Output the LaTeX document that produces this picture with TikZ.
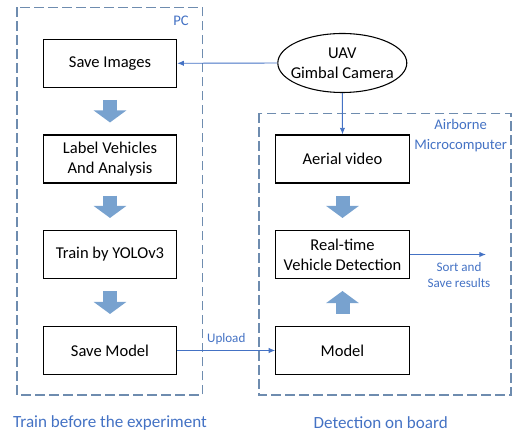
\documentclass[tikz,border=0pt]{standalone}
\usepackage{fontspec}
\setmainfont{Carlito}
\usetikzlibrary{arrows.meta,shapes.geometric}
\definecolor{frameblue}{RGB}{110,140,175}
\definecolor{textblue}{RGB}{68,114,196}
\definecolor{arrowblue}{RGB}{120,162,207}
\tikzset{
  boxfont/.style={font=\fontsize{12.4}{15}\selectfont},
  stepbox/.style={draw=black,line width=0.8pt,minimum width=100pt,minimum height=36pt,align=center,boxfont,inner sep=0pt},
  frame/.style={draw=frameblue,line width=1.1pt,dash pattern=on 7pt off 3.5pt},
  bluelabel/.style={text=textblue,align=center,inner sep=0pt},
  blockarrow/.style={draw=arrowblue,line width=10.5pt,-{Triangle[width=24pt,length=9pt]},shorten <=9pt,shorten >=9pt},
  thinarrow/.style={draw=textblue,line width=0.7pt,-{Latex[length=5pt,width=4pt]}}
}
\begin{document}
\begin{tikzpicture}[x=0.75pt,y=-0.75pt]
\useasboundingbox (0,0) rectangle (515,434);
% frames
\draw[frame] (17,7.3) rectangle (202.7,395);
\draw[frame] (259,113.3) rectangle (511,395);
% left column
\node[stepbox] (saveimg) at (110,63.3) {Save Images};
\node[stepbox] (label) at (110,159) {Label Vehicles\\And Analysis};
\node[stepbox] (train) at (110,254.5) {Train by YOLOv3};
\node[stepbox] (savemodel) at (110,350.5) {Save Model};
% right column
\node[draw=black,line width=0.8pt,ellipse,minimum width=96.75pt,minimum height=44.25pt,inner sep=0pt,align=center,boxfont] (uav) at (342.3,63) {\makebox[50pt]{UAV}\\\makebox[50pt]{Gimbal Camera}};
\node[stepbox] (aerial) at (342.5,159) {Aerial video};
\node[stepbox] (rt) at (342.5,254.5) {Real-time\\Vehicle Detection};
\node[stepbox] (model) at (342.5,350.5) {Model};
% block arrows
\draw[blockarrow] (saveimg.south) -- (label.north);
\draw[blockarrow] (label.south) -- (train.north);
\draw[blockarrow] (train.south) -- (savemodel.north);
\draw[blockarrow] (aerial.south) -- (rt.north);
\draw[blockarrow] (model.north) -- (rt.south);
% thin arrows
\draw[thinarrow] (uav.west) -- (saveimg.east);
\draw[thinarrow] (uav.south) -- (aerial.north);
\draw[thinarrow] (savemodel.east) -- node[bluelabel,above=4pt,font=\fontsize{9.8}{11}\selectfont] (upl) {Upload} (model.west);
\coordinate (sortend) at (486,254.5);
\draw[thinarrow] (rt.east) -- (sortend);
% labels
\node[bluelabel,font=\fontsize{9.8}{12}\selectfont] (sort) at (459,275) {Sort and\\Save results};
\node[bluelabel,font=\fontsize{11}{13}\selectfont] (pc) at (181,21) {PC};
\node[bluelabel,font=\fontsize{11}{14.5}\selectfont] (air) at (460.7,135.5) {Airborne\\Microcomputer};
\node[bluelabel,font=\fontsize{12.8}{15}\selectfont] (trainlbl) at (110,423) {Train before the experiment};
\node[bluelabel,font=\fontsize{12.8}{15}\selectfont] (detlbl) at (380.7,423) {Detection on board};
\end{tikzpicture}
\end{document}
